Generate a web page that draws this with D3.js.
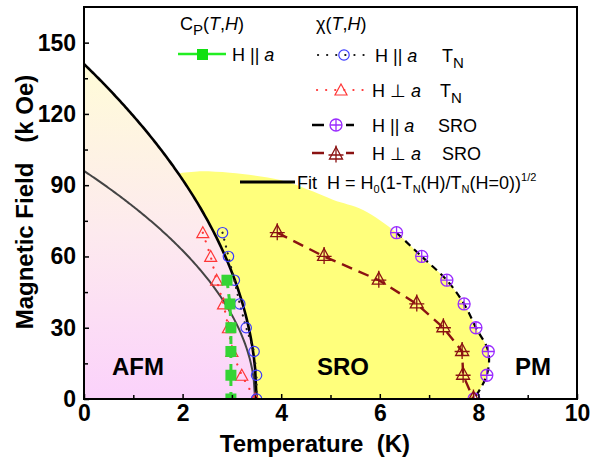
<!DOCTYPE html>
<html>
<head>
<meta charset="utf-8">
<script src="https://cdn.jsdelivr.net/npm/d3@7/dist/d3.min.js"></script>
<style>
  html, body { margin: 0; padding: 0; background: #fff; }
  svg { display: block; font-family: "Liberation Sans", Arial, sans-serif; }
  svg text { white-space: pre; }
</style>
</head>
<body>
<svg id="chart" width="606" height="462"></svg>
<script>
// ---- data -------------------------------------------------------------
const fieldLevels = [70, 60, 50, 40, 30, 20, 10, 0];          // kOe
const chiParTN   = [2.81, 2.93, 3.05, 3.16, 3.29, 3.45, 3.50, 3.50];
const chiPerpTN  = [2.41, 2.57, 2.69, 2.83, 2.93, 3.00, 3.20, 3.47];
const chiParSRO  = [6.34, 6.85, 7.36, 7.71, 7.95, 8.20, 8.17, 7.91];
const chiPerpSRO = [3.92, 4.87, 5.98, 6.75, 7.29, 7.67, 7.69, 7.90];
const cpField    = [50, 40, 30, 20, 10, 0];
const cpParTN    = [2.90, 2.96, 2.98, 2.98, 2.98, 2.98];

// upper edge of the short-range-order region (T, H), left to right
const sroTopT = [1.91, 2.30, 2.96, 3.98, 4.65, 5.06, 5.66];
const sroTopH = [95.0, 95.8, 95.2, 92.2, 87.3, 83.8, 79.6];

// fit H = H0 (1 - T/TN0)^(1/2)
const fitH0 = 141, fitTN0 = 3.5;
const innerH0 = 96, innerTN0 = 3.47;

const xTicks = [0, 2, 4, 6, 8, 10];
const xMinor = [1, 3, 5, 7, 9];
const yTicks = [0, 30, 60, 90, 120, 150];
const yMinor = [15, 45, 75, 105, 135];

// ---- scales -----------------------------------------------------------
const svg = d3.select("#chart");
const x = d3.scaleLinear().domain([0, 10]).range([84, 577]);
const y = d3.scaleLinear().domain([0, 165]).range([399, 7]);

const fitCurve = (H0, TN0, tFrom) => d3.range(0, 121).map(i => {
  const t = tFrom + (TN0 - tFrom) * i / 120;
  return [t, H0 * Math.sqrt(Math.max(0, 1 - t / TN0))];
});

// ---- defs -------------------------------------------------------------
const defs = svg.append("defs");
const grad = defs.append("linearGradient")
  .attr("id", "afmGrad").attr("gradientUnits", "userSpaceOnUse")
  .attr("x1", 0).attr("x2", 0).attr("y1", y(fitH0)).attr("y2", y(0));
grad.append("stop").attr("offset", "0%").attr("stop-color", "#fffcd8");
grad.append("stop").attr("offset", "50%").attr("stop-color", "#fdeaee");
grad.append("stop").attr("offset", "100%").attr("stop-color", "#fbd2fb");
defs.append("clipPath").attr("id", "plotClip")
  .append("rect").attr("x", 84).attr("y", 7).attr("width", 493).attr("height", 392);

const plot = svg.append("g").attr("clip-path", "url(#plotClip)");
const line = d3.line().x(d => x(d[0])).y(d => y(d[1]));

// AFM region: under the fit curve
const fitPts = fitCurve(fitH0, fitTN0, 0);
plot.append("path")
  .attr("d", line([[0, 0], ...fitPts, [fitTN0, 0]]) + "Z")
  .attr("fill", "url(#afmGrad)");

// SRO region: between the fit curve and the SRO boundary
const sroEdge = sroTopT.map((t, i) => [t, sroTopH[i]])
  .concat(chiParSRO.map((t, i) => [t, fieldLevels[i]]));
const smooth = d3.line().x(d => x(d[0])).y(d => y(d[1])).curve(d3.curveCatmullRom.alpha(0.5));
const fitBack = fitCurve(fitH0, fitTN0, sroTopT[0]).reverse();
const sroPath = smooth(sroEdge) + line([[chiParSRO[7], 0], ...fitBack]).replace(/^M/, "L") + "Z";
plot.append("path").attr("d", sroPath).attr("fill", "#ffff7c");

// fit curves
plot.append("path").attr("d", line(fitCurve(innerH0, innerTN0, 0)))
  .attr("fill", "none").attr("stroke", "#444").attr("stroke-width", 2);
plot.append("path").attr("d", line(fitPts))
  .attr("fill", "none").attr("stroke", "#000").attr("stroke-width", 2.6);

// ---- markers ------------------------------------------------------------
const C_BLUE = "#3a3aff", C_RED = "#ff3636", C_GREEN = "#35d435",
      C_PURPLE = "#9a2cff", C_BROWN = "#8a1212";

function drawMarker(g, kind, cx, cy) {
  const m = g.append("g").attr("transform", `translate(${cx},${cy})`);
  if (kind === "circle") {
    m.append("circle").attr("r", 5.2).attr("fill", "none")
      .attr("stroke", C_BLUE).attr("stroke-width", 1.2);
  } else if (kind === "tri") {
    m.append("path").attr("d", "M0,-6L6,5L-6,5Z").attr("fill", "none")
      .attr("stroke", C_RED).attr("stroke-width", 1.2);
  } else if (kind === "square") {
    m.append("rect").attr("x", -5.5).attr("y", -5.5).attr("width", 11).attr("height", 11)
      .attr("fill", C_GREEN);
  } else if (kind === "oplus") {
    m.append("circle").attr("r", 6).attr("fill", "none")
      .attr("stroke", C_PURPLE).attr("stroke-width", 1.3);
    m.append("path").attr("d", "M-6,0H6M0,-6V6").attr("stroke", C_PURPLE).attr("stroke-width", 1.3);
  } else if (kind === "tricross") {
    m.append("path").attr("d", "M0,-8L6.5,4L-6.5,4Z").attr("fill", "none")
      .attr("stroke", C_BROWN).attr("stroke-width", 1.3);
    m.append("path").attr("d", "M-7.5,0H7.5M0,-9.5V7.5").attr("stroke", C_BROWN).attr("stroke-width", 1.3);
  }
}

// SRO, H perp a
const perpSRO = chiPerpSRO.map((t, i) => [t, fieldLevels[i]]);
plot.append("path").attr("d", line(perpSRO)).attr("fill", "none")
  .attr("stroke", C_BROWN).attr("stroke-width", 2.4).attr("stroke-dasharray", "11,7");
// SRO, H || a
const parSRO = chiParSRO.map((t, i) => [t, fieldLevels[i]]);
plot.append("path").attr("d", smooth(parSRO)).attr("fill", "none")
  .attr("stroke", "#000").attr("stroke-width", 2.2).attr("stroke-dasharray", "7,5");
// TN, H perp a
const perpTN = chiPerpTN.map((t, i) => [t, fieldLevels[i]]);
plot.append("path").attr("d", line(perpTN)).attr("fill", "none")
  .attr("stroke", C_RED).attr("stroke-width", 2.2).attr("stroke-linecap", "round")
  .attr("stroke-dasharray", "0.1,9");
// TN, H || a
const parTN = chiParTN.map((t, i) => [t, fieldLevels[i]]);
plot.append("path").attr("d", line(parTN)).attr("fill", "none")
  .attr("stroke", "#222").attr("stroke-width", 2.2).attr("stroke-linecap", "round")
  .attr("stroke-dasharray", "0.1,7");
// Cp, H || a
const cpPts = cpParTN.map((t, i) => [t, cpField[i]]);
plot.append("path").attr("d", line(cpPts)).attr("fill", "none")
  .attr("stroke", C_GREEN).attr("stroke-width", 3).attr("stroke-dasharray", "8,6");

const mk = plot.append("g");
perpTN.forEach(d => drawMarker(mk, "tri", x(d[0]), y(d[1])));
parTN.forEach(d => drawMarker(mk, "circle", x(d[0]), y(d[1])));
cpPts.forEach(d => drawMarker(mk, "square", x(d[0]), y(d[1])));
parSRO.forEach(d => drawMarker(mk, "oplus", x(d[0]), y(d[1])));
perpSRO.forEach(d => drawMarker(mk, "tricross", x(d[0]), y(d[1])));

// ---- phase labels -------------------------------------------------------
const phase = svg.append("g").attr("font-weight", "bold").attr("font-size", 24).attr("fill", "#000");
phase.append("text").attr("x", 112).attr("y", 375).text("AFM");
phase.append("text").attr("x", 317).attr("y", 375).text("SRO");
phase.append("text").attr("x", 515).attr("y", 375).text("PM");

// ---- axes ---------------------------------------------------------------
const styleAxis = g => {
  g.select(".domain").remove();
  g.selectAll("line").attr("stroke", "#000").attr("stroke-width", 1.5);
  g.selectAll("text").attr("font-family", "'Liberation Sans', Arial, sans-serif")
    .attr("font-weight", "bold").attr("font-size", 23).attr("fill", "#000");
};
svg.append("g").attr("transform", "translate(0,399)")
  .call(d3.axisBottom(x).tickValues(xTicks).tickFormat(d3.format("d")).tickSize(-5).tickPadding(6))
  .call(styleAxis);
svg.append("g").attr("transform", "translate(0,399)")
  .call(d3.axisBottom(x).tickValues(xMinor).tickFormat("").tickSize(-4))
  .call(styleAxis);
svg.append("g").attr("transform", "translate(84,0)")
  .call(d3.axisLeft(y).tickValues(yTicks).tickFormat(d3.format("d")).tickSize(-5).tickPadding(8))
  .call(styleAxis);
svg.append("g").attr("transform", "translate(84,0)")
  .call(d3.axisLeft(y).tickValues(yMinor).tickFormat("").tickSize(-4))
  .call(styleAxis);

svg.append("rect").attr("x", 84).attr("y", 7).attr("width", 493).attr("height", 392)
  .attr("fill", "none").attr("stroke", "#000").attr("stroke-width", 2);

svg.append("text").attr("x", 315).attr("y", 452).attr("text-anchor", "middle")
  .attr("font-weight", "bold").attr("font-size", 24).text("Temperature  (K)");
svg.append("text").attr("transform", "translate(33,202) rotate(-90)").attr("text-anchor", "middle")
  .attr("font-weight", "bold").attr("font-size", 24).text("Magnetic Field   (k Oe)");

// ---- legend -------------------------------------------------------------
const lg = svg.append("g").attr("font-size", 18).attr("fill", "#000");

const hdr1 = lg.append("text").attr("x", 180).attr("y", 30);
hdr1.append("tspan").text("C");
hdr1.append("tspan").attr("font-size", 15).attr("dy", 5).text("P");
hdr1.append("tspan").attr("dy", -5).text("(");
hdr1.append("tspan").attr("font-style", "italic").text("T");
hdr1.append("tspan").text(",");
hdr1.append("tspan").attr("font-style", "italic").text("H");
hdr1.append("tspan").text(")");

const hdr2 = lg.append("text").attr("x", 316).attr("y", 30);
hdr2.append("tspan").text("χ(");
hdr2.append("tspan").attr("font-style", "italic").text("T");
hdr2.append("tspan").text(",");
hdr2.append("tspan").attr("font-style", "italic").text("H");
hdr2.append("tspan").text(")");

function fieldText(xp, yp, sym, tail, tailX, subN) {
  const t = lg.append("text").attr("x", xp).attr("y", yp);
  t.append("tspan").text("H " + sym + " ");
  t.append("tspan").attr("font-style", "italic").text("a");
  if (tail) {
    const u = lg.append("text").attr("x", tailX).attr("y", yp);
    u.append("tspan").text(tail);
    if (subN) u.append("tspan").attr("font-size", 15).attr("dy", 6).text("N");
  }
}

// Cp row
lg.append("line").attr("x1", 178).attr("x2", 226).attr("y1", 54).attr("y2", 54)
  .attr("stroke", "#22ee22").attr("stroke-width", 2.5);
lg.append("rect").attr("x", 197).attr("y", 49).attr("width", 11).attr("height", 11).attr("fill", "#11e011");
fieldText(232, 61, "||");

// chi rows
lg.append("line").attr("x1", 318).attr("x2", 368).attr("y1", 55).attr("y2", 55)
  .attr("stroke", "#111").attr("stroke-width", 2.2).attr("stroke-linecap", "round").attr("stroke-dasharray", "0.1,9");
drawMarker(lg, "circle", 344, 55);
fieldText(375, 62, "||", "T", 442, true);

lg.append("line").attr("x1", 317).attr("x2", 366).attr("y1", 90).attr("y2", 90)
  .attr("stroke", C_RED).attr("stroke-width", 2.2).attr("stroke-linecap", "round").attr("stroke-dasharray", "0.1,9");
drawMarker(lg, "tri", 341, 90);
fieldText(372, 97, "⊥", "T", 440, true);

[[312, 324], [346, 354]].forEach(s => lg.append("line").attr("x1", s[0]).attr("x2", s[1])
  .attr("y1", 125).attr("y2", 125).attr("stroke", "#000").attr("stroke-width", 2.5));
drawMarker(lg, "oplus", 336, 125);
fieldText(372, 132, "||", "SRO", 438, false);

[[312, 324], [346, 354]].forEach(s => lg.append("line").attr("x1", s[0]).attr("x2", s[1])
  .attr("y1", 153).attr("y2", 153).attr("stroke", C_BROWN).attr("stroke-width", 2.5));
drawMarker(lg, "tricross", 336, 155);
fieldText(372, 160, "⊥", "SRO", 442, false);

// fit row
lg.append("line").attr("x1", 240).attr("x2", 295).attr("y1", 182).attr("y2", 182)
  .attr("stroke", "#000").attr("stroke-width", 3);
const ft = lg.append("text").attr("x", 297).attr("y", 189);
ft.append("tspan").text("Fit  H = H");
ft.append("tspan").attr("font-size", 11).attr("dy", 4).text("0");
ft.append("tspan").attr("dy", -4).text("(1-T");
ft.append("tspan").attr("font-size", 11).attr("dy", 4).text("N");
ft.append("tspan").attr("dy", -4).text("(H)/T");
ft.append("tspan").attr("font-size", 11).attr("dy", 4).text("N");
ft.append("tspan").attr("dy", -4).text("(H=0))");
ft.append("tspan").attr("font-size", 11).attr("dy", -8).text("1/2");
</script>
</body>
</html>
